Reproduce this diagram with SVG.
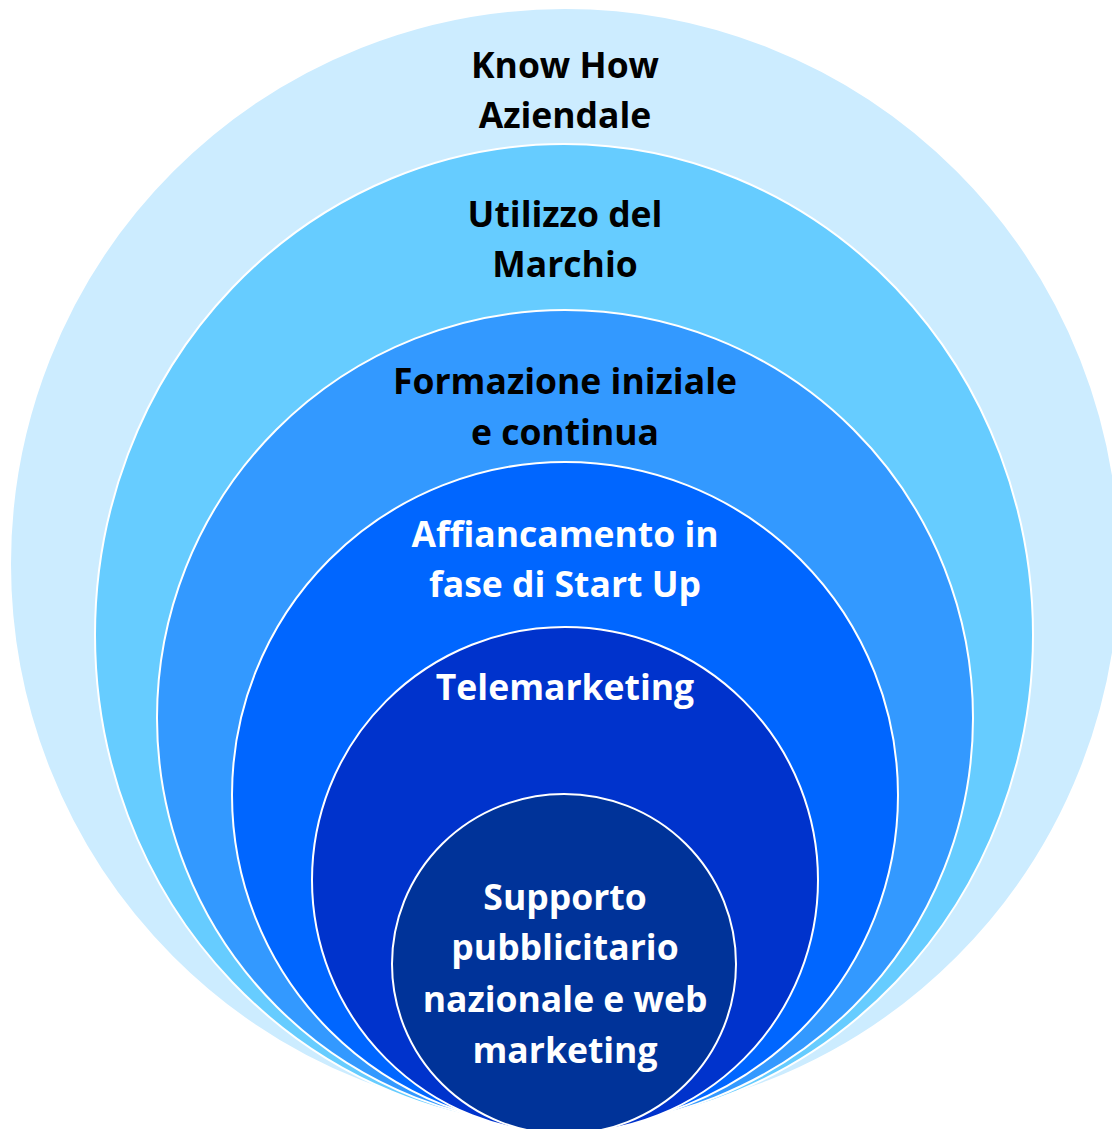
<svg xmlns="http://www.w3.org/2000/svg" width="1112" height="1129" viewBox="0 0 1112 1129">
<style>
.ring{stroke:#ffffff;stroke-width:2}
.lbl{font-family:"Open Sans","Noto Sans","DejaVu Sans",sans-serif;font-weight:700;font-size:35.5px;text-anchor:middle}
.dark{fill:#000000}
.light{fill:#ffffff}
</style>
<rect width="1112" height="1129" fill="#ffffff"/>
<g id="n1">
<ellipse class="ring" cx="565" cy="564" rx="555" ry="556" fill="#CCECFF" stroke="none"/>
<text class="lbl dark" x="565" y="78">Know How</text>
<text class="lbl dark" x="565" y="128">Aziendale</text>
</g>
<g id="n2">
<ellipse class="ring" cx="564" cy="635" rx="469" ry="491" fill="#66CCFF"/>
<text class="lbl dark" x="565" y="227">Utilizzo del</text>
<text class="lbl dark" x="565" y="277">Marchio</text>
</g>
<g id="n3">
<ellipse class="ring" cx="565" cy="718" rx="408" ry="408" fill="#3399FF"/>
<text class="lbl dark" x="565" y="394">Formazione iniziale</text>
<text class="lbl dark" x="565" y="445">e continua</text>
</g>
<g id="n4">
<ellipse class="ring" cx="565" cy="795" rx="333" ry="333" fill="#0066FF"/>
<text class="lbl light" x="565" y="547">Affiancamento in</text>
<text class="lbl light" x="565" y="597">fase di Start Up</text>
</g>
<g id="n5">
<ellipse class="ring" cx="565" cy="880" rx="253" ry="253" fill="#0033CC"/>
<text class="lbl light" x="565" y="700">Telemarketing</text>
</g>
<g id="n6">
<ellipse class="ring" cx="564" cy="964" rx="172" ry="170" fill="#003399"/>
<text class="lbl light" x="565" y="910">Supporto</text>
<text class="lbl light" x="565" y="960">pubblicitario</text>
<text class="lbl light" x="565" y="1012">nazionale e web</text>
<text class="lbl light" x="565" y="1063">marketing</text>
</g>
<g id="connectors"/>
</svg>
